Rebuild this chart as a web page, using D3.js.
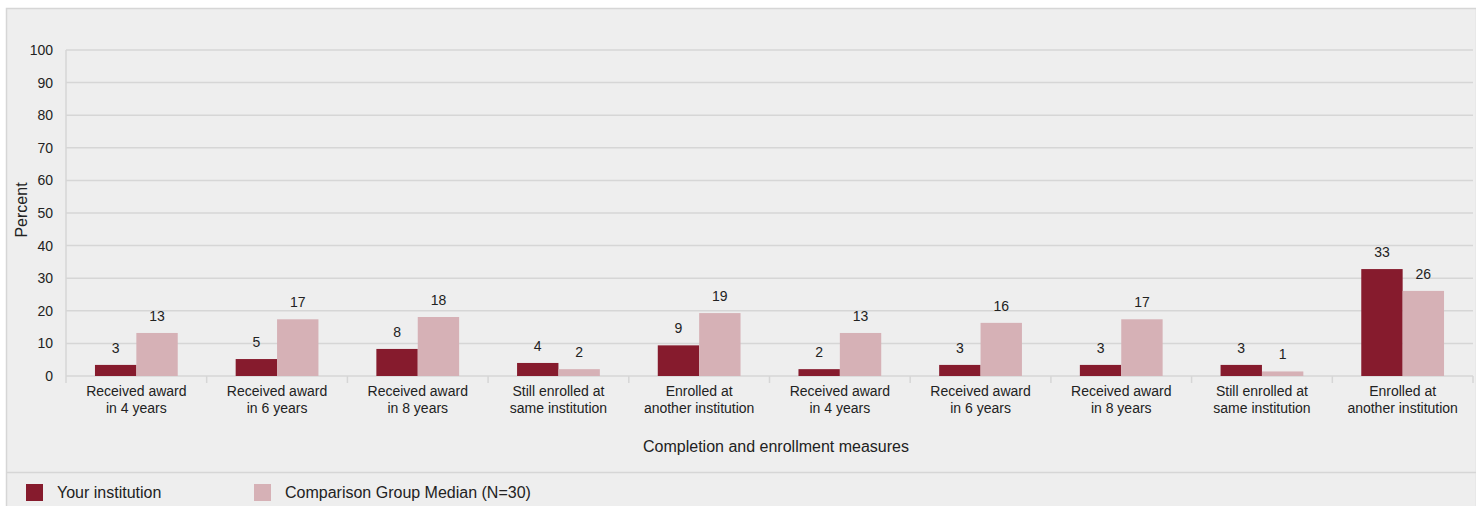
<!DOCTYPE html>
<html>
<head>
<meta charset="utf-8">
<script src="https://cdn.jsdelivr.net/npm/d3@7"></script>
<style>
  body { margin: 0; background: #fff; }
  svg { display: block; font-family: "Liberation Sans", Arial, sans-serif; }
</style>
</head>
<body>
<div id="chart"></div>
<script>
// Category labels (two lines each)
const categories = [
  ["Received award", "in 4 years"],
  ["Received award", "in 6 years"],
  ["Received award", "in 8 years"],
  ["Still enrolled at", "same institution"],
  ["Enrolled at", "another institution"],
  ["Received award", "in 4 years"],
  ["Received award", "in 6 years"],
  ["Received award", "in 8 years"],
  ["Still enrolled at", "same institution"],
  ["Enrolled at", "another institution"]
];
const seriesNames = ["Your institution", "Comparison Group Median (N=30)"];
const yourInstitution = [3.4, 5.2, 8.3, 4.0, 9.4, 2.1, 3.4, 3.4, 3.4, 32.8];
const comparisonMedian = [13.2, 17.4, 18.1, 2.1, 19.3, 13.2, 16.3, 17.4, 1.4, 26.1];
const yTicks = [0, 10, 20, 30, 40, 50, 60, 70, 80, 90, 100];

(function () {
  const W = 1476, H = 506;
  const plot = { left: 66, top: 50, right: 1473, bottom: 376 };
  const colors = ["#861b2d", "#d6b1b6"];

  const svg = d3.select("#chart").append("svg")
      .attr("width", W)
      .attr("height", H);

  // Panel background
  svg.append("rect")
      .attr("x", 6.5).attr("y", 8.5)
      .attr("width", W - 6).attr("height", H)
      .attr("fill", "#eeeeee")
      .attr("stroke", "#d6d6d6")
      .attr("stroke-width", 1.5);

  const x = d3.scaleBand()
      .domain(d3.range(categories.length))
      .range([plot.left, plot.right]);
  const inner = d3.scaleBand()
      .domain([0, 1])
      .range([0, x.bandwidth()])
      .paddingOuter(0.7)
      .paddingInner(0);
  const y = d3.scaleLinear().domain([0, 100]).range([plot.bottom, plot.top]);

  // Gridlines
  svg.append("g")
      .selectAll("line")
      .data(yTicks.slice(1))
      .join("line")
      .attr("x1", plot.left).attr("x2", plot.right)
      .attr("y1", d => y(d)).attr("y2", d => y(d))
      .attr("stroke", "#d6d6d6")
      .attr("stroke-width", 1.5);

  // Y axis
  const yAxis = svg.append("g")
      .attr("transform", `translate(${plot.left},0)`)
      .call(d3.axisLeft(y).tickValues(yTicks).tickSize(0).tickPadding(13));
  yAxis.select(".domain").attr("stroke", "#d6d6d6").attr("stroke-width", 1.5)
      .attr("d", `M0,${plot.top}V${plot.bottom + 7}`);
  yAxis.selectAll("text").style("font-size", "14px").attr("fill", "#222");

  // X axis line + ticks at band boundaries
  svg.append("line")
      .attr("x1", plot.left).attr("x2", plot.right)
      .attr("y1", plot.bottom).attr("y2", plot.bottom)
      .attr("stroke", "#d6d6d6").attr("stroke-width", 1.5);
  svg.append("g")
      .selectAll("line")
      .data(d3.range(1, categories.length + 1))
      .join("line")
      .attr("x1", d => plot.left + d * x.step())
      .attr("x2", d => plot.left + d * x.step())
      .attr("y1", plot.bottom).attr("y2", plot.bottom + 7)
      .attr("stroke", "#d6d6d6").attr("stroke-width", 1.5);

  // Category labels
  const catLabels = svg.append("g")
      .selectAll("text")
      .data(categories)
      .join("text")
      .attr("x", (d, i) => x(i) + x.bandwidth() / 2)
      .attr("y", plot.bottom + 20)
      .attr("text-anchor", "middle")
      .style("font-size", "14px")
      .attr("fill", "#222");
  catLabels.selectAll("tspan")
      .data(d => d)
      .join("tspan")
      .attr("x", function () { return d3.select(this.parentNode).attr("x"); })
      .attr("dy", (d, i) => i === 0 ? 0 : 16.5)
      .text(d => d);

  // Bars
  const series = [yourInstitution, comparisonMedian];
  series.forEach((vals, s) => {
    svg.append("g")
        .selectAll("rect")
        .data(vals)
        .join("rect")
        .attr("x", (d, i) => x(i) + inner(s))
        .attr("y", d => y(d))
        .attr("width", inner.bandwidth())
        .attr("height", d => y(0) - y(d))
        .attr("fill", colors[s]);

    svg.append("g")
        .selectAll("text")
        .data(vals)
        .join("text")
        .attr("x", (d, i) => x(i) + inner(s) + inner.bandwidth() / 2)
        .attr("y", d => y(d) - 12)
        .attr("text-anchor", "middle")
        .style("font-size", "14px")
        .attr("fill", "#222")
        .text(d => d3.format(".0f")(d));
  });

  // Axis titles
  svg.append("text")
      .attr("x", 776)
      .attr("y", 452)
      .attr("text-anchor", "middle")
      .style("font-size", "16px")
      .attr("fill", "#222")
      .text("Completion and enrollment measures");

  svg.append("text")
      .attr("transform", "translate(27,210) rotate(-90)")
      .attr("text-anchor", "middle")
      .style("font-size", "16px")
      .attr("fill", "#222")
      .text("Percent");

  // Legend separator
  svg.append("line")
      .attr("x1", 6).attr("x2", W)
      .attr("y1", 472.5).attr("y2", 472.5)
      .attr("stroke", "#d6d6d6").attr("stroke-width", 1.5);

  const legendX = [26, 254];
  const legend = svg.append("g")
      .selectAll("g")
      .data(seriesNames)
      .join("g")
      .attr("transform", (d, i) => `translate(${legendX[i]},484)`);
  legend.append("rect")
      .attr("width", 17).attr("height", 17)
      .attr("fill", (d, i) => colors[i]);
  legend.append("text")
      .attr("x", 31).attr("y", 14)
      .style("font-size", "16px")
      .attr("fill", "#222")
      .text(d => d);
})();
</script>
</body>
</html>
